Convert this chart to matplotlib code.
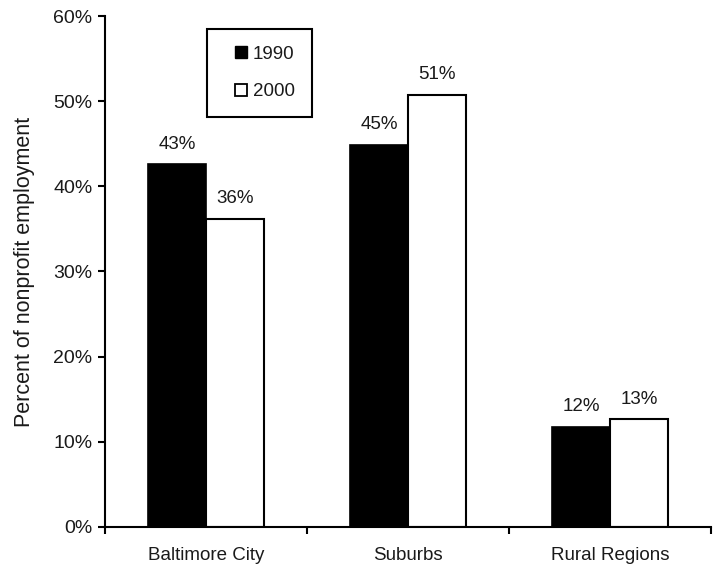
import numpy as np
import matplotlib.pyplot as plt
from matplotlib.lines import Line2D

plt.rcParams['font.family'] = ['Liberation Sans', 'DejaVu Sans']

regions = ['Baltimore City', 'Suburbs', 'Rural Regions']
share_1990 = [42.6, 44.9, 11.7]
share_2000 = [36.2, 50.8, 12.6]
labels_1990 = ['43%', '45%', '12%']
labels_2000 = ['36%', '51%', '13%']

fig = plt.figure(figsize=(7.19, 5.65), dpi=100)
ax = fig.add_axes([0.146, 0.068, 0.843, 0.903])

x = np.arange(len(regions))
w = 0.285
b1 = ax.bar(x - w/2, share_1990, w, color='black', edgecolor='black', linewidth=1.2)
b2 = ax.bar(x + w/2, share_2000, w, color='white', edgecolor='black', linewidth=1.5)

txt = '#1a1a1a'
for bars, labs in ((b1, labels_1990), (b2, labels_2000)):
    for bar, lab in zip(bars, labs):
        ax.annotate(lab, (bar.get_x() + bar.get_width()/2, bar.get_height()),
                    xytext=(0, 8.5), textcoords='offset points',
                    ha='center', va='bottom', fontsize=13.5, color=txt)

ax.set_xlim(-0.5, 2.5)
ax.set_ylim(0, 60)
ax.set_yticks(np.arange(0, 61, 10))
ax.set_yticklabels([f'{v}%' for v in range(0, 61, 10)], fontsize=14, color=txt)

# ticks sit between the groups, labels at the group centres
ax.set_xticks([-0.5, 0.5, 1.5, 2.5])
ax.set_xticklabels([])
ax.set_xticks(x, minor=True)
ax.set_xticklabels(regions, minor=True, fontsize=13.5, color=txt)
ax.tick_params(axis='x', which='minor', length=0, pad=15)
ax.tick_params(axis='x', which='major', length=5, width=1.5, direction='out')
ax.tick_params(axis='y', length=5, width=1.5, direction='out', pad=4)

for side in ('top', 'right'):
    ax.spines[side].set_visible(False)
for side in ('left', 'bottom'):
    ax.spines[side].set_linewidth(1.5)

ax.set_ylabel('Percent of nonprofit employment', fontsize=15.5, color=txt, labelpad=13)

h1 = Line2D([], [], ls='none', marker='s', markersize=8, markerfacecolor='black',
            markeredgecolor='black')
h2 = Line2D([], [], ls='none', marker='s', markersize=8, markerfacecolor='white',
            markeredgecolor='black', markeredgewidth=1.3)
leg = ax.legend([h1, h2], ['1990', '2000'], loc='upper left',
                bbox_to_anchor=(0.168, 0.976), fontsize=13.5, frameon=True,
                fancybox=False, edgecolor='black', handlelength=1.9,
                handletextpad=-0.35, labelspacing=1.1, borderpad=0.9,
                borderaxespad=0, framealpha=1)
leg.get_frame().set_linewidth(1.5)
for t in leg.get_texts():
    t.set_color(txt)

fig.savefig('out.png', dpi=100)
